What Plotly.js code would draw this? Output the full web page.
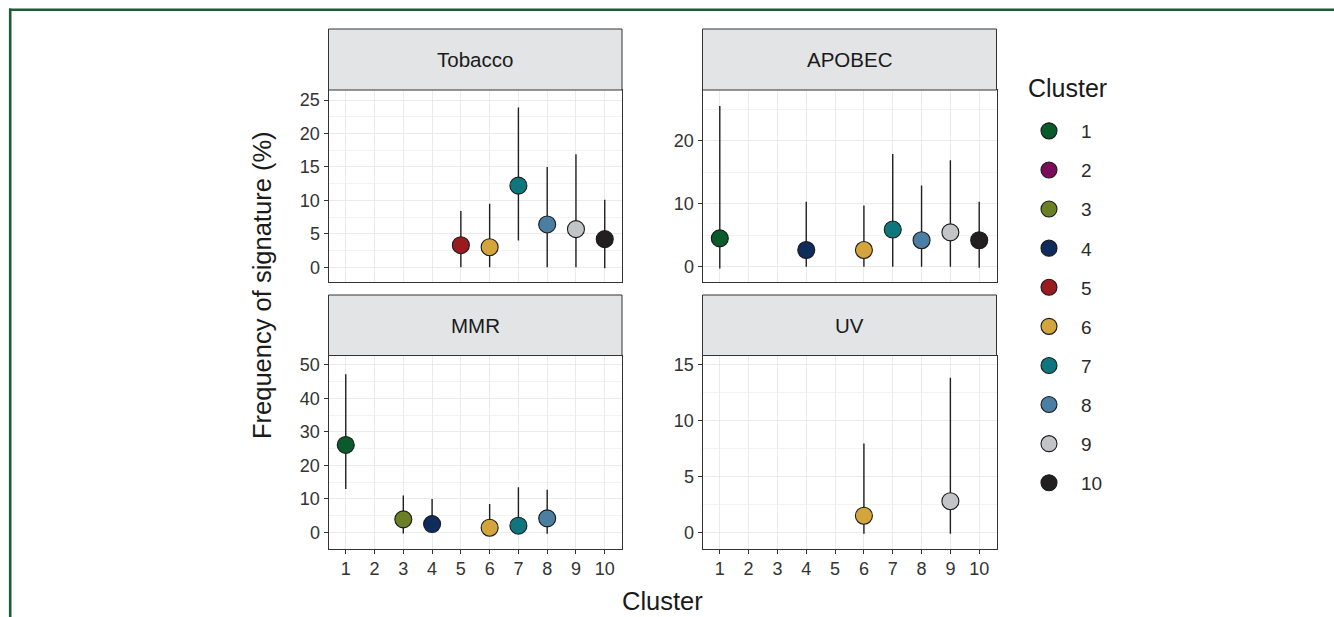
<!DOCTYPE html>
<html>
<head>
<meta charset="utf-8">
<script src="https://cdn.plot.ly/plotly-3.0.1.min.js"></script>
<style>
  html, body { margin: 0; padding: 0; background: #ffffff; }
  #chart { width: 1334px; height: 617px; }
</style>
</head>
<body>
<div id="chart"></div>
<script>
// ---------------- DATA ----------------
const clusterLabels = ["1", "2", "3", "4", "5", "6", "7", "8", "9", "10"];
const clusterColors = ["#0b5a2c", "#7b0c5c", "#6b7f24", "#0f2d5c", "#9a1b1f", "#d4a53c", "#0e777e", "#4a7ea2", "#c2c4c8", "#221f20"];

const panelNames = ["Tobacco", "APOBEC", "MMR", "UV"];

const tobaccoClusters = [5, 6, 7, 8, 9, 10];
const tobaccoMid = [3.3, 3.0, 12.2, 6.4, 5.7, 4.2];
const tobaccoLo = [0, 0, 4.0, 0, 0, -0.15];
const tobaccoHi = [8.4, 9.5, 23.9, 15.0, 16.9, 10.1];

const apobecClusters = [1, 4, 6, 7, 8, 9, 10];
const apobecMid = [4.5, 2.65, 2.65, 5.9, 4.2, 5.45, 4.2];
const apobecLo = [-0.3, 0, 0, 0, 0, 0, -0.15];
const apobecHi = [25.5, 10.3, 9.7, 17.9, 12.9, 16.9, 10.3];

const mmrClusters = [1, 3, 4, 6, 7, 8];
const mmrMid = [26.1, 3.9, 2.5, 1.4, 2.0, 4.2];
const mmrLo = [12.95, -0.3, 0, 0, 0, -0.4];
const mmrHi = [47.2, 11.05, 9.96, 8.5, 13.5, 12.75];

const uvClusters = [6, 9];
const uvMid = [1.5, 2.8];
const uvLo = [-0.1, -0.1];
const uvHi = [7.95, 13.85];

const xTickVals = [1, 2, 3, 4, 5, 6, 7, 8, 9, 10];
const xTickText = ["1", "2", "3", "4", "5", "6", "7", "8", "9", "10"];

// ---------------- LAYOUT HELPERS ----------------
const W = 1334, H = 617;
const px = v => v / W;
const py = v => 1 - v / H;
const FONT = "Liberation Sans, Arial, Helvetica, sans-serif";
const TICK_COLOR = "#333333";

const panels = [
  {name: panelNames[0], cl: tobaccoClusters, mid: tobaccoMid, lo: tobaccoLo, hi: tobaccoHi,
   xs: [328.5, 622], ys: [90, 281.5], strip: [29, 90], yr: [-2.13, 26.5], dtick: 5, showX: false},
  {name: panelNames[1], cl: apobecClusters, mid: apobecMid, lo: apobecLo, hi: apobecHi,
   xs: [702.5, 996.5], ys: [90, 281.5], strip: [29, 90], yr: [-2.35, 28.05], dtick: 10, showX: false},
  {name: panelNames[2], cl: mmrClusters, mid: mmrMid, lo: mmrLo, hi: mmrHi,
   xs: [328.5, 622], ys: [355.5, 548.5], strip: [295, 355.5], yr: [-4.8, 52.8], dtick: 10, showX: true},
  {name: panelNames[3], cl: uvClusters, mid: uvMid, lo: uvLo, hi: uvHi,
   xs: [702.5, 996.5], ys: [355.5, 548.5], strip: [295, 355.5], yr: [-1.43, 15.83], dtick: 5, showX: true}
];

const traces = [];
const layout = {
  width: W, height: H,
  margin: {l: 0, r: 0, t: 0, b: 0, pad: 0},
  paper_bgcolor: "#ffffff",
  plot_bgcolor: "#ffffff",
  font: {family: FONT, color: TICK_COLOR},
  showlegend: true,
  legend: {
    x: px(1017), y: py(112), xanchor: "left", yanchor: "top",
    font: {size: 19, color: "#2a2a2a", family: FONT},
    itemwidth: 54,
    tracegroupgap: 11.4,
    bgcolor: "rgba(0,0,0,0)"
  },
  shapes: [],
  annotations: []
};

panels.forEach((p, i) => {
  const xa = i === 0 ? "xaxis" : "xaxis" + (i + 1);
  const ya = i === 0 ? "yaxis" : "yaxis" + (i + 1);
  const xr = i === 0 ? "x" : "x" + (i + 1);
  const yr = i === 0 ? "y" : "y" + (i + 1);

  layout[xa] = {
    domain: [px(p.xs[0]), px(p.xs[1])],
    anchor: yr,
    range: [0.4, 10.6],
    tickmode: "array", tickvals: xTickVals, ticktext: xTickText,
    showticklabels: p.showX,
    ticks: p.showX ? "outside" : "",
    ticklen: 4, tickwidth: 1, tickcolor: TICK_COLOR,
    tickfont: {size: 18, color: TICK_COLOR, family: FONT},
    showgrid: true, gridcolor: "#ebebeb", gridwidth: 1,
    zeroline: false,
    showline: true, mirror: true, linecolor: "#333333", linewidth: 1,
    fixedrange: true
  };
  layout[ya] = {
    domain: [py(p.ys[1]), py(p.ys[0])],
    anchor: xr,
    range: p.yr,
    tick0: 0, dtick: p.dtick,
    ticks: "outside", ticklen: 4, tickwidth: 1, tickcolor: TICK_COLOR,
    tickfont: {size: 18, color: TICK_COLOR, family: FONT},
    showgrid: true, gridcolor: "#ebebeb", gridwidth: 1,
    minor: {dtick: p.dtick / 2, tick0: 0, showgrid: true, gridcolor: "#f3f3f3", gridwidth: 1, ticks: ""},
    zeroline: false,
    showline: true, mirror: true, linecolor: "#333333", linewidth: 1,
    fixedrange: true
  };

  traces.push({
    type: "scatter", mode: "markers",
    xaxis: xr, yaxis: yr,
    x: p.cl, y: p.mid,
    showlegend: false, hoverinfo: "x+y",
    error_y: {
      type: "data", symmetric: false,
      array: p.hi.map((h, k) => h - p.mid[k]),
      arrayminus: p.lo.map((l, k) => p.mid[k] - l),
      width: 0, thickness: 1.4, color: "#1f1f1f"
    },
    marker: {
      size: 17,
      color: p.cl.map(c => clusterColors[c - 1]),
      line: {color: "#1a1a1a", width: 1.1}
    }
  });

  // strip
  layout.shapes.push({
    type: "rect", xref: "paper", yref: "paper",
    x0: px(p.xs[0]), x1: px(p.xs[1]), y0: py(p.strip[1]), y1: py(p.strip[0]),
    fillcolor: "#e3e4e6", line: {color: "#333333", width: 1}, layer: "above"
  });
  layout.annotations.push({
    xref: "paper", yref: "paper",
    x: px((p.xs[0] + p.xs[1]) / 2), y: py((p.strip[0] + p.strip[1]) / 2),
    xanchor: "center", yanchor: "middle", showarrow: false,
    text: p.name, font: {size: 20.5, color: "#1a1a1a", family: FONT}
  });
});

// legend entries (one per cluster, including those absent from the data)
clusterLabels.forEach((lab, i) => {
  traces.push({
    type: "scatter", mode: "markers",
    x: [null], y: [null], xaxis: "x", yaxis: "y",
    name: lab, legendgroup: "g" + lab, showlegend: true,
    marker: {size: 17, color: clusterColors[i], line: {color: "#1a1a1a", width: 1.1}},
    hoverinfo: "skip"
  });
});

// legend title
layout.annotations.push({
  xref: "paper", yref: "paper", x: px(1026), y: py(88),
  xanchor: "left", yanchor: "middle", showarrow: false,
  text: "Cluster", font: {size: 25, color: "#1a1a1a", family: FONT}
});

// axis titles
layout.annotations.push({
  xref: "paper", yref: "paper", x: px(262), y: py(285),
  xanchor: "center", yanchor: "middle", showarrow: false, textangle: -90,
  text: "Frequency of signature (%)", font: {size: 25.5, color: "#1a1a1a", family: FONT}
});
layout.annotations.push({
  xref: "paper", yref: "paper", x: px(662), y: py(601),
  xanchor: "center", yanchor: "middle", showarrow: false,
  text: "Cluster", font: {size: 25.5, color: "#1a1a1a", family: FONT}
});

// outer green frame (top and left edges)
layout.shapes.push({
  type: "line", xref: "paper", yref: "paper",
  x0: px(9), x1: 1, y0: py(9.8), y1: py(9.8),
  line: {color: "#1d5c36", width: 2.6}, layer: "above"
});
layout.shapes.push({
  type: "line", xref: "paper", yref: "paper",
  x0: px(10.2), x1: px(10.2), y0: py(8.5), y1: 0,
  line: {color: "#1d5c36", width: 2.6}, layer: "above"
});

Plotly.newPlot("chart", traces, layout, {displayModeBar: false, staticPlot: true});
</script>
</body>
</html>
